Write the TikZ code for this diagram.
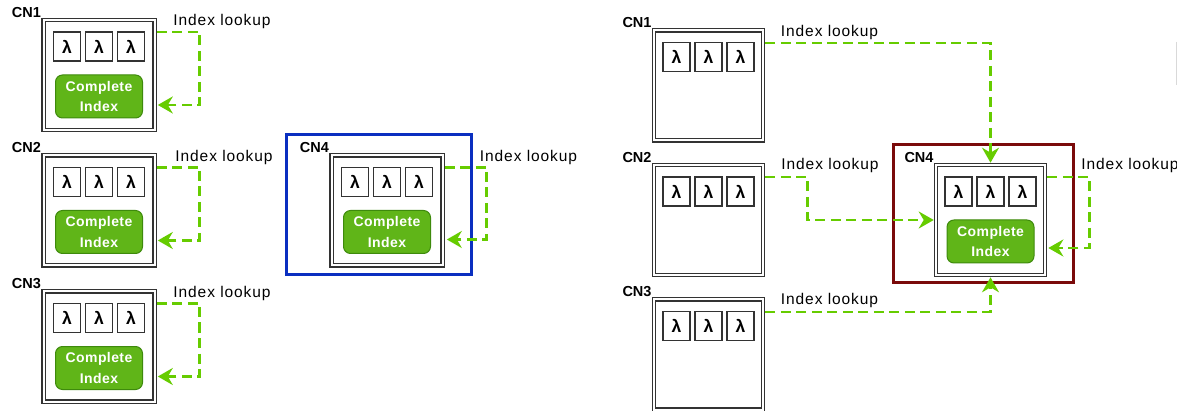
\documentclass[tikz,border=0pt]{standalone}
\usepackage{fontspec}
\setmainfont{Liberation Sans}
\newfontfamily\lookupfont{Liberation Sans}[LetterSpace=6]
\newfontfamily\indexfont{Liberation Sans}[LetterSpace=3]
\usetikzlibrary{arrows.meta,calc}

\definecolor{lookupgreen}{HTML}{66CC00}
\definecolor{indexfill}{HTML}{60B518}
\definecolor{indexdraw}{HTML}{3E8A0C}
\definecolor{framegray}{HTML}{333333}
\definecolor{cnblue}{HTML}{0A2FC0}
\definecolor{cnred}{HTML}{7A0A0A}

\tikzset{
  cnbox/.style={draw=framegray, double=white, double distance=2pt, line width=1.3pt,
    outer sep=2.3pt, inner sep=0pt, minimum height=110pt},
  lambdabox/.style={draw=framegray, line width=1.1pt, fill=white, minimum width=27pt,
    minimum height=29pt, inner sep=0pt, font=\fontsize{17.5}{17.5}\selectfont\bfseries},
  indexbox/.style={draw=indexdraw, line width=1pt, fill=indexfill, rounded corners=7pt,
    minimum width=87pt, minimum height=43pt, inner sep=0pt, align=center, text=white,
    font=\fontsize{14}{20.5}\indexfont\bfseries},
  cnlabel/.style={anchor=south east, inner sep=0pt, font=\fontsize{14.5}{14.5}\selectfont\bfseries},
  lookuplabel/.style={inner sep=0pt, font=\fontsize{15.5}{15.5}\lookupfont},
  lookup/.style={draw=lookupgreen, line width=2.8pt, dash pattern=on 10pt off 5.5pt,
    -{Stealth[length=15pt,width=17pt,inset=5pt]}},
  groupframe/.style={line width=3pt, inner sep=0pt},
}

% one compute node: double frame, caption and three function slots
\newcommand\cnunit[4]{%
  \node[cnbox, minimum width=#4] (#1) at #2 {};
  \node[cnlabel] (#1t) at (#1.north west) {#3};
  \node[lambdabox] (#1a) at ($(#1)+(-32,-28.5)$) {λ};
  \node[lambdabox] (#1b) at ($(#1)+(0,-28.5)$) {λ};
  \node[lambdabox] (#1c) at ($(#1)+(32,-28.5)$) {λ};
}
\newcommand\cnindex[1]{%
  \node[indexbox] (#1i) at ($(#1)+(0,21.5)$) {Complete\\Index};
}

\begin{document}
\begin{tikzpicture}[x=1pt,y=-1pt]
  \fill[white] (0,0) rectangle (1177,411);
  \useasboundingbox (0,0) rectangle (1177,411);

  % ---------- replicated index on every node ----------
  \cnunit{c1}{(99,75)}{CN1}{111pt}\cnindex{c1}
  \cnunit{c2}{(99,210.5)}{CN2}{111pt}\cnindex{c2}
  \cnunit{c3}{(99,346.5)}{CN3}{111pt}\cnindex{c3}

  \node[groupframe, draw=cnblue, minimum width=185pt, minimum height=140pt] (b4) at (379,204.5) {};
  \cnunit{c4}{(387,210.5)}{CN4}{111pt}\cnindex{c4}

  \node[lookuplabel] (c1l) at (222,21) {Index lookup};
  \node[lookuplabel] (c2l) at (224,157) {Index lookup};
  \node[lookuplabel] (c3l) at (222,293) {Index lookup};
  \node[lookuplabel] (c4l) at (528.5,157) {Index lookup};

  \draw[lookup] ($(c1.east)+(0,-43)$) -- ++(43,0) |- ($(c1.east)+(1,30)$);
  \draw[lookup] ($(c2.east)+(0,-43)$) -- ++(43,0) |- ($(c2.east)+(1,30)$);
  \draw[lookup] ($(c3.east)+(0,-43)$) -- ++(43,0) |- ($(c3.east)+(1,30)$);
  \draw[lookup] ($(c4.east)+(0,-43)$) -- ++(42,0) |- ($(c4.east)+(2,29)$);

  % ---------- single index held by CN4 ----------
  \cnunit{r1}{(708.5,85.5)}{CN1}{109pt}
  \cnunit{r2}{(708.5,220)}{CN2}{109pt}
  \cnunit{r3}{(708.5,354.5)}{CN3}{109pt}

  \node[groupframe, draw=cnred, minimum width=180pt, minimum height=138pt] (b8) at (983.5,213.5) {};
  \cnunit{r4}{(990.5,220)}{CN4}{109pt}\cnindex{r4}

  \node[lookuplabel] (r1l) at (829.5,32) {Index lookup};
  \node[lookuplabel] (r2l) at (830,165) {Index lookup};
  \node[lookuplabel] (r3l) at (829.5,300) {Index lookup};
  \node[lookuplabel] (r4l) at (1130,165) {Index lookup};

  \draw[lookup] ($(r1.east)+(0,-42.5)$) -| (r4.north);
  \draw[lookup] ($(r2.east)+(0,-43)$) -- ++(42,0) |- (r4.west);
  \draw[lookup] ($(r3.east)+(0,-42.5)$) -| (r4.south);
  \draw[lookup] ($(r4.east)+(0,-43)$) -- ++(42,0) |- ($(r4.east)+(1,28)$);

  % thin rule at the right margin
  \draw[black!15, line width=1pt] (1176.5,42) -- (1176.5,85);
\end{tikzpicture}
\end{document}
